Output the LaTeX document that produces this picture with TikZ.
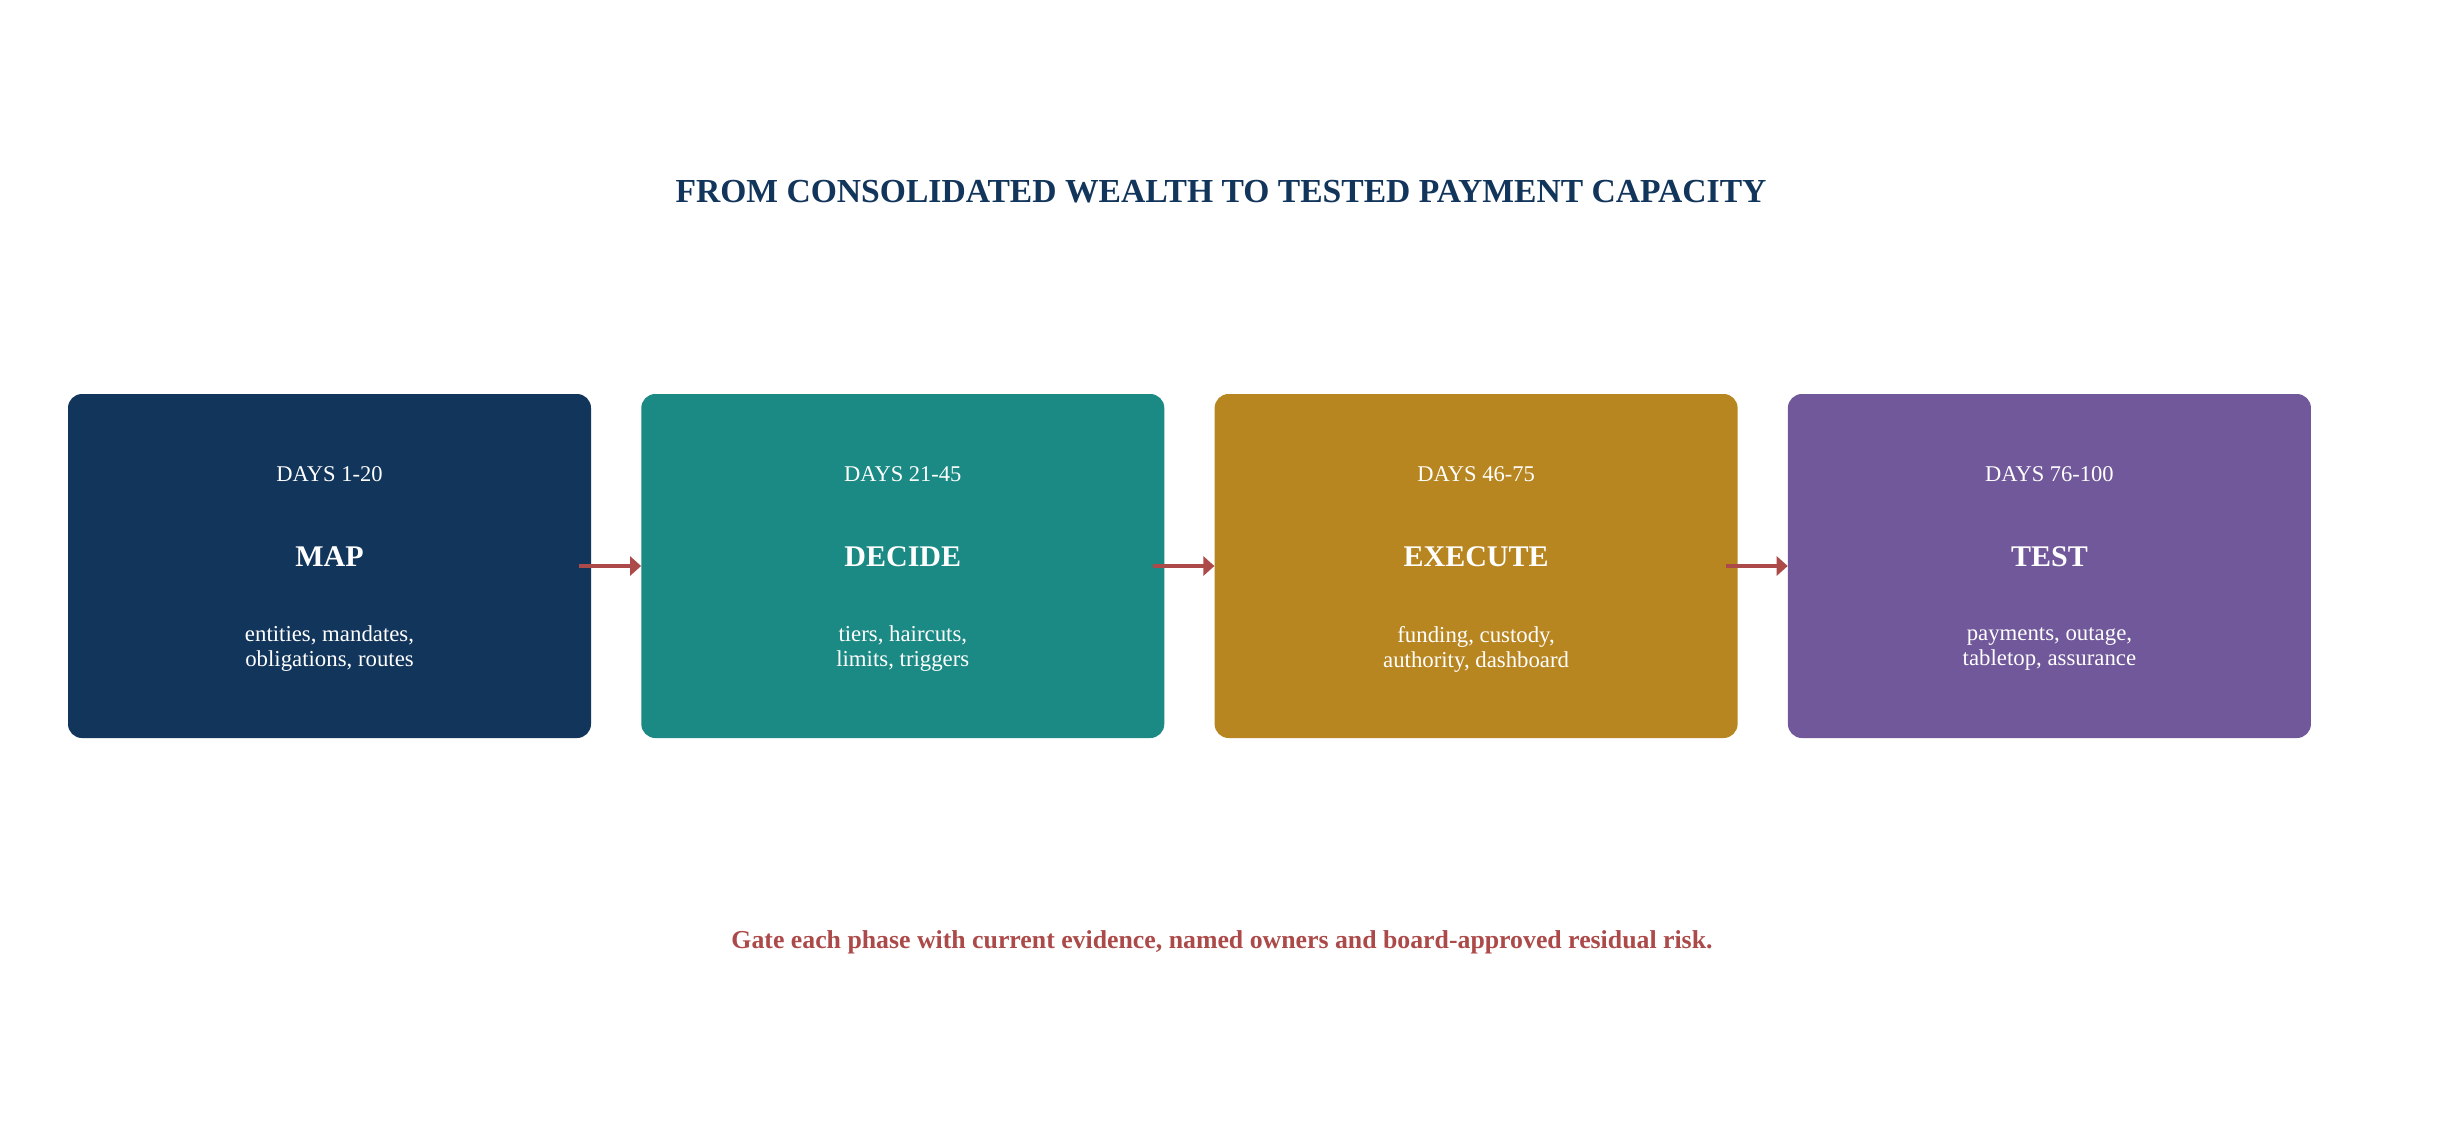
\documentclass[tikz,border=0pt]{standalone}
\usepackage{fontspec}
\setmainfont{Liberation Serif}
\usetikzlibrary{arrows.meta}
\definecolor{navy}{HTML}{12355B}
\definecolor{teal}{HTML}{1C8A84}
\definecolor{gold}{HTML}{B88620}
\definecolor{purple}{HTML}{70589A}
\definecolor{arrowred}{HTML}{AC4A49}
\begin{document}
\begin{tikzpicture}[x=1pt,y=-1pt,
  phasebox/.style={draw=none,rounded corners=14pt,minimum width=523pt,minimum height=344pt,inner sep=0pt},
  daystext/.style={text=white,anchor=base,inner sep=0pt,font=\fontsize{22.5}{25}\selectfont},
  nametext/.style={text=white,anchor=base,inner sep=0pt,font=\fontsize{30}{34}\selectfont\bfseries},
  desctext/.style={text=white,anchor=center,inner sep=0pt,align=center,font=\fontsize{22.8}{25}\selectfont},
  flowarrow/.style={draw=arrowred,line width=4.8pt,-{Triangle[length=11pt,width=19pt]}}
]
\path[use as bounding box,fill=white] (0,0) rectangle (2441,1143);
\node[text=navy,anchor=base,inner sep=0pt,font=\fontsize{33.6}{40}\selectfont\bfseries] (title) at (1221,202) {FROM CONSOLIDATED WEALTH TO TESTED PAYMENT CAPACITY};

\foreach \i/\col/\days/\name/\descA/\descB in {
  1/navy/DAYS 1-20/MAP/{entities, mandates,}/{obligations, routes},
  2/teal/DAYS 21-45/DECIDE/{tiers, haircuts,}/{limits, triggers},
  3/gold/DAYS 46-75/EXECUTE/{funding, custody,}/{authority, dashboard},
  4/purple/DAYS 76-100/TEST/{payments, outage,}/{tabletop, assurance}}{
  \pgfmathsetmacro{\cx}{329.5+(\i-1)*573.3}
  \node[phasebox,fill=\col] (box\i) at (\cx,566) {};
  \node[daystext] (days\i) at (\cx,481) {\days};
  \node[nametext] (name\i) at (\cx,566) {\name};
  \node[desctext] (desc\i) at (\cx,649) {\descA\\\descB};
}
\foreach \i/\j in {1/2,2/3,3/4}{
  \draw[flowarrow] ([xshift=-12pt]box\i.east) -- (box\j.west);
}
\node[text=arrowred,anchor=base,inner sep=0pt,font=\fontsize{25.8}{30}\selectfont\bfseries] (footer) at (1222,948) {Gate each phase with current evidence, named owners and board-approved residual risk.};
\end{tikzpicture}
\end{document}
